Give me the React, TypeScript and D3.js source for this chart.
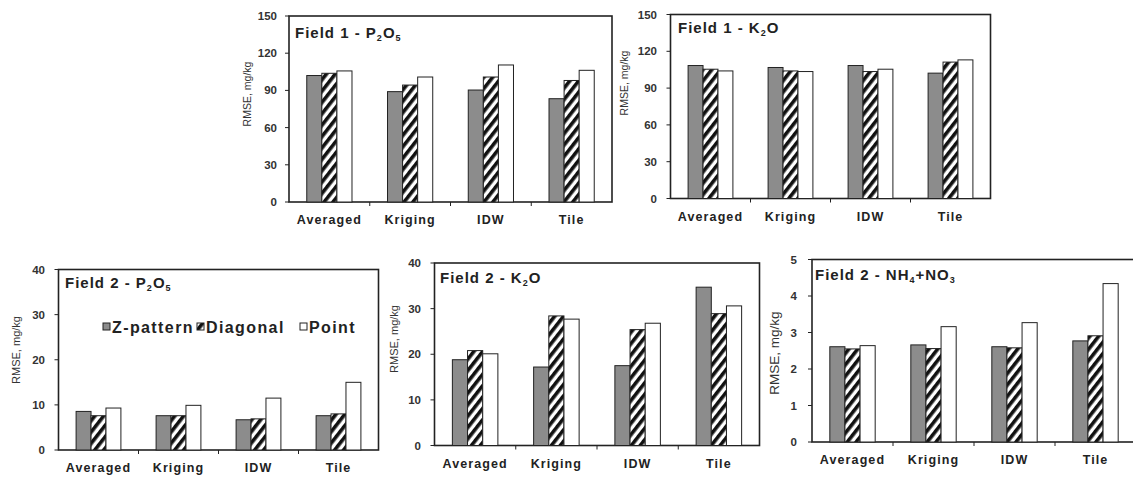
import React from "react";
import * as d3 from "d3";

// Interpolation methods on the x axis and sampling designs as series
const categories = ["Averaged", "Kriging", "IDW", "Tile"];
const series = ["Z-pattern", "Diagonal", "Point"];

// RMSE (mg/kg) per sampling design, in category order
const f1P_z = [102, 89, 90.3, 83.3];
const f1P_d = [103.8, 94.3, 100.8, 98];
const f1P_p = [105.7, 100.8, 110.5, 106.2];

const f1K_z = [108.4, 106.8, 108.4, 102.2];
const f1K_d = [105.4, 104, 103.5, 111.2];
const f1K_p = [104, 103.5, 105.4, 113];

const f2P_z = [8.55, 7.6, 6.7, 7.6];
const f2P_d = [7.6, 7.6, 6.9, 8.0];
const f2P_p = [9.3, 9.9, 11.5, 15.0];

const f2K_z = [18.8, 17.2, 17.5, 34.7];
const f2K_d = [20.8, 28.4, 25.4, 28.9];
const f2K_p = [20.1, 27.7, 26.8, 30.6];

const f2N_z = [2.61, 2.66, 2.61, 2.77];
const f2N_d = [2.55, 2.56, 2.58, 2.91];
const f2N_p = [2.64, 3.16, 3.27, 4.34];

const ticksF1 = [0, 30, 60, 90, 120, 150];
const ticksF2 = [0, 10, 20, 30, 40];
const ticksN = [0, 1, 2, 3, 4, 5];

const panels = [
  {
    id: "f1p",
    title: [{ t: "Field 1 - P" }, { t: "2", sub: true }, { t: "O" }, { t: "5", sub: true }],
    values: [f1P_z, f1P_d, f1P_p],
    ticks: ticksF1,
    x0: 289, x1: 612, yTop: 16, yBase: 202,
    titleX: 295, titleY: 38,
    ytX: 248, ytY: 94, ytSize: 10.5,
    tickX: 277,
  },
  {
    id: "f1k",
    title: [{ t: "Field 1 - K" }, { t: "2", sub: true }, { t: "O" }],
    values: [f1K_z, f1K_d, f1K_p],
    ticks: ticksF1,
    x0: 670.5, x1: 990.5, yTop: 14.5, yBase: 198.5,
    titleX: 678, titleY: 33,
    ytX: 625, ytY: 83, ytSize: 10.5,
    tickX: 657,
  },
  {
    id: "f2p",
    title: [{ t: "Field 2 - P" }, { t: "2", sub: true }, { t: "O" }, { t: "5", sub: true }],
    values: [f2P_z, f2P_d, f2P_p],
    ticks: ticksF2,
    x0: 58.5, x1: 378.5, yTop: 269.5, yBase: 450,
    titleX: 65, titleY: 288,
    ytX: 17, ytY: 350, ytSize: 11,
    tickX: 45,
    legend: true,
  },
  {
    id: "f2k",
    title: [{ t: "Field 2 - K" }, { t: "2", sub: true }, { t: "O" }],
    values: [f2K_z, f2K_d, f2K_p],
    ticks: ticksF2,
    x0: 434.5, x1: 759.5, yTop: 263, yBase: 445.5,
    titleX: 440, titleY: 283,
    ytX: 395, ytY: 339, ytSize: 11,
    tickX: 421,
  },
  {
    id: "f2n",
    title: [{ t: "Field 2 - NH" }, { t: "4", sub: true }, { t: "+NO" }, { t: "3", sub: true }],
    values: [f2N_z, f2N_d, f2N_p],
    ticks: ticksN,
    x0: 812, x1: 1136, yTop: 259.5, yBase: 442,
    titleX: 815, titleY: 280,
    ytX: 775, ytY: 353, ytSize: 13.5,
    tickX: 797,
  },
];

const FONT = "'Liberation Sans', Arial, Helvetica, sans-serif";
const GRAY = "#8c8c8c";
const fills = [GRAY, "url(#hatch)", "#ffffff"];

function TitleText({ parts, x, y }: { parts: { t: string; sub?: boolean }[]; x: number; y: number }) {
  return (
    <text x={x} y={y} fontFamily={FONT} fontWeight={700} fontSize={15} letterSpacing={1} fill="#222">
      {parts.map((p, i) =>
        p.sub ? (
          <tspan key={i} fontSize={9} dy={3}>{p.t}</tspan>
        ) : (
          <tspan key={i} dy={i > 0 && parts[i - 1].sub ? -3 : 0}>{p.t}</tspan>
        )
      )}
    </text>
  );
}

function Panel({ p }: { p: (typeof panels)[number] }) {
  const max = p.ticks[p.ticks.length - 1];
  const y = d3.scaleLinear().domain([0, max]).range([p.yBase, p.yTop]);
  const x = d3.scaleBand<string>().domain(categories).range([p.x0, p.x1]).padding(0);
  const bw = x.bandwidth();
  const gw = bw * 0.56;
  const inner = d3
    .scaleBand<string>()
    .domain(series)
    .range([(bw - gw) / 2, (bw + gw) / 2])
    .padding(0);

  return (
    <g>
      {/* plot frame */}
      <rect
        x={p.x0}
        y={y(max)}
        width={p.x1 - p.x0}
        height={y(0) - y(max)}
        fill="none"
        stroke="#222"
        strokeWidth={1.6}
      />
      {/* bars */}
      {series.map((s, si) =>
        categories.map((c, ci) => {
          const v = p.values[si][ci];
          return (
            <rect
              key={s + c}
              x={(x(c) as number) + (inner(s) as number)}
              y={y(v)}
              width={inner.bandwidth()}
              height={y(0) - y(v)}
              fill={fills[si]}
              stroke="#222"
              strokeWidth={1}
            />
          );
        })
      )}
      {/* y axis ticks and labels */}
      {p.ticks.map((t) => (
        <g key={t}>
          <line x1={p.x0 - 4} x2={p.x0} y1={y(t)} y2={y(t)} stroke="#222" strokeWidth={1} />
          <text
            x={p.tickX}
            y={y(t) + 4}
            textAnchor="end"
            fontFamily={FONT}
            fontWeight={700}
            fontSize={11.5}
            fill="#333"
          >
            {t}
          </text>
        </g>
      ))}
      {/* x axis ticks at category boundaries */}
      {categories.slice(1).map((c) => (
        <line
          key={c}
          x1={x(c) as number}
          x2={x(c) as number}
          y1={p.yBase}
          y2={p.yBase + 4}
          stroke="#222"
          strokeWidth={1}
        />
      ))}
      {categories.map((c) => (
        <text
          key={c}
          x={(x(c) as number) + bw / 2}
          y={p.yBase + 22}
          textAnchor="middle"
          fontFamily={FONT}
          fontWeight={700}
          fontSize={12.5}
          letterSpacing={1.1}
          fill="#222"
        >
          {c}
        </text>
      ))}
      {/* y axis title */}
      <text
        transform={`translate(${p.ytX},${p.ytY}) rotate(-90)`}
        textAnchor="middle"
        dominantBaseline="middle"
        fontFamily={FONT}
        fontSize={p.ytSize}
        fill="#333"
      >
        RMSE, mg/kg
      </text>
      <TitleText parts={p.title} x={p.titleX} y={p.titleY} />
      {p.legend && <Legend />}
    </g>
  );
}

function Legend() {
  const items = [
    { x: 103, tx: 112 },
    { x: 197, tx: 206 },
    { x: 300, tx: 309 },
  ];
  const yc = 327;
  return (
    <g>
      {series.map((s, i) => (
        <g key={s}>
          <rect
            x={items[i].x}
            y={yc - 4}
            width={7}
            height={7}
            fill={fills[i]}
            stroke="#222"
            strokeWidth={1}
          />
          <text
            x={items[i].tx}
            y={yc + 5.5}
            fontFamily={FONT}
            fontWeight={700}
            fontSize={16}
            letterSpacing={1.4}
            fill="#222"
          >
            {s}
          </text>
        </g>
      ))}
    </g>
  );
}

export default function App() {
  return (
    <svg
      width={1133}
      height={478}
      viewBox="0 0 1133 478"
      style={{ position: "absolute", left: 0, top: 0, display: "block", background: "#fff" }}
    >
      <defs>
        <pattern
          id="hatch"
          patternUnits="userSpaceOnUse"
          width={7}
          height={7}
          patternTransform="rotate(38)"
        >
          <rect x={0} y={0} width={7} height={7} fill="#fff" />
          <rect x={0} y={0} width={3.6} height={7} fill="#111" />
        </pattern>
      </defs>
      <rect x={0} y={0} width={1133} height={478} fill="#fff" />
      {panels.map((p) => (
        <Panel key={p.id} p={p} />
      ))}
    </svg>
  );
}
